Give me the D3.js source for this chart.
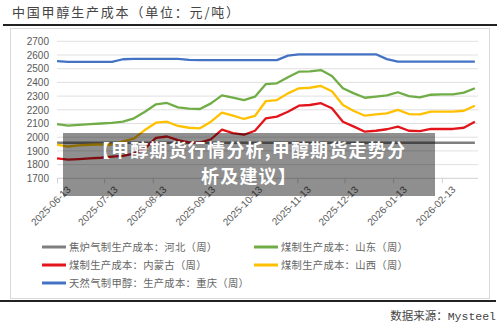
<!DOCTYPE html>
<html><head><meta charset="utf-8">
<script src="https://cdn.jsdelivr.net/npm/d3@7"></script>
<style>html,body{margin:0;padding:0;background:#fff;}svg{display:block;}</style>
</head><body>
<script>
const dates = ["2025-06-13","2025-06-20","2025-06-27","2025-07-04","2025-07-11","2025-07-18","2025-07-25","2025-08-01","2025-08-08","2025-08-15","2025-08-22","2025-08-29","2025-09-05","2025-09-12","2025-09-19","2025-09-26","2025-10-03","2025-10-10","2025-10-17","2025-10-24","2025-10-31","2025-11-07","2025-11-14","2025-11-21","2025-11-28","2025-12-05","2025-12-12","2025-12-19","2025-12-26","2026-01-02","2026-01-09","2026-01-16","2026-01-23","2026-01-30","2026-02-06","2026-02-13","2026-02-20","2026-02-27","2026-03-06"];
const hebei = [1960,1960,1960,1960,1960,1960,1960,1960,1960,1960,1960,1960,1960,1960,1960,1960,1960,1960,1960,1960,1960,1960,1960,1960,1960,1960,1960,1960,1960,1960,1960,1960,1960,1960,1960,1960,1960,1960,1960];
const shandong = [2095,2085,2090,2095,2100,2105,2113,2138,2186,2240,2250,2218,2208,2206,2247,2305,2288,2271,2296,2388,2393,2437,2478,2480,2490,2447,2357,2320,2288,2296,2305,2328,2300,2291,2310,2313,2313,2325,2357];
const neimenggu = [1846,1836,1840,1845,1850,1858,1863,1880,1919,1995,2005,1978,1962,1960,1985,2055,2030,2018,2047,2138,2150,2186,2230,2235,2248,2211,2113,2077,2040,2047,2058,2077,2047,2045,2060,2060,2060,2069,2113];
const shanxi = [1945,1932,1940,1945,1948,1945,1970,1990,2053,2106,2113,2082,2069,2065,2113,2179,2157,2133,2155,2264,2271,2320,2357,2361,2374,2335,2235,2191,2157,2167,2174,2199,2169,2167,2186,2186,2186,2193,2230];
const chongqing = [2556,2550,2550,2550,2550,2550,2569,2571,2571,2571,2571,2571,2565,2563,2563,2563,2563,2563,2563,2563,2563,2595,2605,2605,2605,2605,2605,2605,2605,2605,2570,2551,2551,2551,2551,2551,2551,2551,2551];
const seriesNames = ["焦炉气制生产成本：河北（周）","煤制生产成本：山东（周）","煤制生产成本：内蒙古（周）","煤制生产成本：山西（周）","天然气制甲醇：生产成本：重庆（周）"];
const seriesColors = ["#7f7f7f","#70ad47","#e3151b","#ffc000","#4472c4"];
const xTickLabels = ["2025-06-13","2025-07-13","2025-08-13","2025-09-13","2025-10-13","2025-11-13","2025-12-13","2026-01-13","2026-02-13"];
const yTicks = [1700,1800,1900,2000,2100,2200,2300,2400,2500,2600,2700];
const titleText = "中国甲醇生产成本（单位：元/吨）";
const sourceText = "数据来源：Mysteel";
const overlayLines = ["【甲醇期货行情分析,甲醇期货走势分","析及建议】"];

const W = 500, H = 329;
const parse = d3.timeParse("%Y-%m-%d");
const svg = d3.select("body").append("svg").attr("width", W).attr("height", H);
svg.append("rect").attr("width", W).attr("height", H).attr("fill", "#fff");

// title and frames
svg.append("text").attr("x", 12).attr("y", 17).text(titleText)
  .attr("font-family", "'Noto Sans CJK SC'").attr("font-size", 13).attr("letter-spacing", 1.8).attr("fill", "#444");
svg.append("line").attr("x1", 3).attr("x2", 497).attr("y1", 25).attr("y2", 25).attr("stroke", "#222").attr("stroke-width", 2);
svg.append("rect").attr("x", 10.5).attr("y", 28.5).attr("width", 479).attr("height", 270).attr("fill", "none").attr("stroke", "#d9d9d9").attr("stroke-width", 1);
svg.append("line").attr("x1", 0).attr("x2", 496).attr("y1", 301).attr("y2", 301).attr("stroke", "#222").attr("stroke-width", 2);
svg.append("text").attr("x", 496).attr("y", 320).attr("text-anchor", "end").text(sourceText)
  .attr("font-family", "'Liberation Mono','Noto Sans CJK SC'").attr("font-size", 11.5).attr("fill", "#444");

const x = d3.scaleTime().domain([parse("2025-06-13"), parse("2026-03-08")]).range([57, 478]);
const y = d3.scaleLinear().domain([1700, 2700]).range([178.3, 41.3]);

// grid
svg.append("g").selectAll("line").data(yTicks.slice(1)).join("line")
  .attr("x1", 57).attr("x2", 478).attr("y1", d => y(d)).attr("y2", d => y(d))
  .attr("stroke", "#e0e0e0").attr("stroke-width", 1);

// y axis
const yAxis = d3.axisLeft(y).tickValues(yTicks).tickSize(0).tickPadding(8).tickFormat(d3.format("d"));
const gy = svg.append("g").attr("transform", "translate(57,0)").call(yAxis);
gy.select(".domain").remove();
gy.selectAll("text").attr("font-family", "'Liberation Sans',Arial").attr("font-size", 10).attr("fill", "#595959");

// x axis
const xAxis = d3.axisBottom(x).tickValues(xTickLabels.map(parse)).tickSize(5).tickFormat(d3.timeFormat("%Y-%m-%d"));
const gx = svg.append("g").attr("transform", `translate(0,${y(1700)})`).call(xAxis);
gx.select(".domain").attr("stroke", "#d0d0d0").attr("d", `M57,0H478`);
gx.selectAll(".tick line").attr("stroke", "#d0d0d0");
gx.selectAll("text").attr("font-family", "'Liberation Sans',Arial").attr("font-size", 10).attr("fill", "#595959")
  .attr("text-anchor", "end").attr("transform", "translate(4,2) rotate(-45)").attr("dy", "0.6em").attr("dx", "0");

// lines
const allSeries = [hebei, shandong, neimenggu, shanxi, chongqing];
const line = d3.line().x((d, i) => x(parse(dates[i]))).y(d => y(d));
svg.append("g").selectAll("path").data(allSeries).join("path")
  .attr("d", d => line(d)).attr("fill", "none")
  .attr("stroke", (d, i) => seriesColors[i]).attr("stroke-width", (d, i) => i === 0 ? 2.6 : 2.3)
  .attr("stroke-linejoin", "round");

// legend
const legPos = [[42, 247], [254, 247], [42, 265], [254, 265], [42, 283]];
const lg = svg.append("g").selectAll("g").data(seriesNames).join("g")
  .attr("transform", (d, i) => `translate(${legPos[i][0]},${legPos[i][1]})`);
lg.append("line").attr("x1", 0).attr("x2", 24).attr("y1", 0).attr("y2", 0)
  .attr("stroke", (d, i) => seriesColors[i]).attr("stroke-width", 3);
lg.append("text").attr("x", 27).attr("y", 0).attr("dy", "0.35em").text(d => d)
  .attr("font-family", "'Noto Sans CJK SC'").attr("font-size", 10.3).attr("letter-spacing", 0.3).attr("fill", "#666");

// overlay banner
svg.append("rect").attr("x", 63).attr("y", 133).attr("width", 372).attr("height", 63).attr("fill", "#000").attr("opacity", 0.44);
svg.append("g").selectAll("text").data(overlayLines).join("text")
  .attr("x", 249).attr("y", (d, i) => 150.5 + i * 26.5).attr("dy", "0.35em").attr("text-anchor", "middle").text(d => d)
  .attr("font-family", "'Noto Sans CJK SC'").attr("font-weight", "bold").attr("font-size", 18).attr("letter-spacing", 1.2).attr("fill", "#fff");
</script>
</body></html>
